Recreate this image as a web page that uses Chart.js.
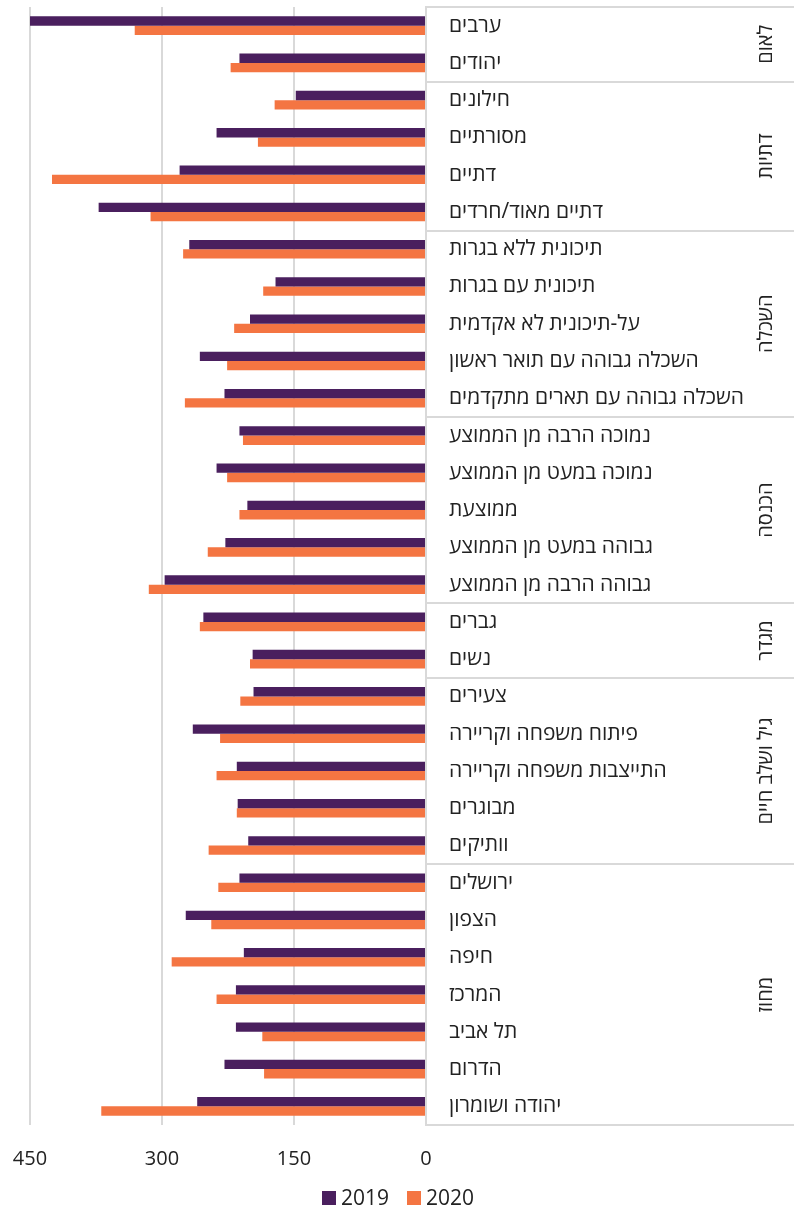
<!DOCTYPE html>
<html>
<head>
<meta charset="utf-8">
<script src="https://cdn.jsdelivr.net/npm/chart.js@4"></script>
<style>
    html, body { margin: 0; padding: 0; background: #fff; }
    #wrap { width: 794px; height: 1210px; position: relative; }
</style>
</head>
<body>
<div id="wrap"><canvas id="chart"></canvas></div>
<script>
const categories = [
    'ערבים', 'יהודים',
    'חילונים', 'מסורתיים', 'דתיים', 'דתיים מאוד/חרדים',
    'תיכונית ללא בגרות', 'תיכונית עם בגרות', 'על-תיכונית לא אקדמית', 'השכלה גבוהה עם תואר ראשון', 'השכלה גבוהה עם תארים מתקדמים',
    'נמוכה הרבה מן הממוצע', 'נמוכה במעט מן הממוצע', 'ממוצעת', 'גבוהה במעט מן הממוצע', 'גבוהה הרבה מן הממוצע',
    'גברים', 'נשים',
    'צעירים', 'פיתוח משפחה וקריירה', 'התייצבות משפחה וקריירה', 'מבוגרים', 'וותיקים',
    'ירושלים', 'הצפון', 'חיפה', 'המרכז', 'תל אביב', 'הדרום', 'יהודה ושומרון'
];
const values2019 = [450, 212, 148, 238, 280, 372, 269, 171, 200, 257, 229, 212, 238, 203, 228, 297, 253, 197, 196, 265, 215, 214, 202, 212, 273, 207, 216, 216, 229, 260];
const values2020 = [331, 222, 172, 191, 425, 313, 276, 185, 218, 226, 274, 208, 226, 212, 248, 315, 257, 200, 211, 234, 238, 215, 247, 236, 244, 289, 238, 186, 184, 369];
const groupNames = ['לאום', 'דתיות', 'השכלה', 'הכנסה', 'מגדר', 'גיל ושלב חיים', 'מחוז'];
const groupSizes = [2, 4, 5, 5, 2, 5, 7];
const xTicks = [0, 150, 300, 450];

const FONT = "'Open Sans', 'DejaVu Sans', sans-serif";
const TEXT = '#222222';
const LINE = '#d9d9d9';

// separator lines and rotated group names in the right-hand column
const groupPlugin = {
    id: 'groups',
    afterDraw(chart) {
        const ctx = chart.ctx;
        const y = chart.scales.y;
        const area = chart.chartArea;
        const right = chart.width;
        const half = (y.getPixelForValue(1) - y.getPixelForValue(0)) / 2;

        ctx.save();
        ctx.strokeStyle = LINE;
        ctx.lineWidth = 2;
        let idx = 0;
        const bounds = [y.getPixelForValue(0) - half];
        groupSizes.forEach(n => {
            idx += n;
            bounds.push(y.getPixelForValue(idx - 1) + half);
        });
        bounds.forEach(b => {
            ctx.beginPath();
            ctx.moveTo(area.right - 1, Math.round(b));
            ctx.lineTo(right, Math.round(b));
            ctx.stroke();
        });

        ctx.fillStyle = TEXT;
        ctx.font = '20px ' + FONT;
        ctx.textAlign = 'center';
        ctx.textBaseline = 'middle';
        groupNames.forEach((name, i) => {
            const cy = (bounds[i] + bounds[i + 1]) / 2;
            ctx.save();
            ctx.translate(766, cy);
            ctx.rotate(-Math.PI / 2);
            ctx.fillText(name, 0, 0);
            ctx.restore();
        });
        ctx.restore();
    }
};

// legend under the axis: small square, short gap, year
const legendPlugin = {
    id: 'smallLegend',
    afterDraw(chart) {
        const ctx = chart.ctx;
        const sets = chart.data.datasets;
        const box = 14, gap = 5, spacing = 18, cy = 1198;
        ctx.save();
        ctx.font = '21px ' + FONT;
        ctx.textBaseline = 'middle';
        ctx.textAlign = 'left';
        const widths = sets.map(ds => box + gap + ctx.measureText(ds.label).width);
        const total = widths.reduce((a, b) => a + b, 0) + spacing * (sets.length - 1);
        let x = 398 - total / 2;
        sets.forEach((ds, i) => {
            ctx.fillStyle = ds.backgroundColor;
            ctx.fillRect(Math.round(x), cy - box / 2, box, box);
            ctx.fillStyle = TEXT;
            ctx.fillText(ds.label, x + box + gap, cy + 1);
            x += widths[i] + spacing;
        });
        ctx.restore();
    }
};

new Chart(document.getElementById('chart'), {
    type: 'bar',
    data: {
        labels: categories,
        datasets: [
            {
                label: '2019',
                data: values2019,
                backgroundColor: '#4a1f5e',
                categoryPercentage: 0.5,
                barPercentage: 1.0
            },
            {
                label: '2020',
                data: values2020,
                backgroundColor: '#f47542',
                categoryPercentage: 0.5,
                barPercentage: 1.0
            }
        ]
    },
    options: {
        indexAxis: 'y',
        responsive: true,
        maintainAspectRatio: false,
        animation: false,
        layout: {
            padding: { left: 30, top: 7, right: 0, bottom: 40 }
        },
        plugins: {
            legend: { display: false },
            tooltip: { enabled: false }
        },
        scales: {
            x: {
                min: 0,
                max: 450,
                reverse: true,
                afterBuildTicks: scale => {
                    scale.ticks = xTicks.map(v => ({ value: v }));
                },
                afterFit: scale => {
                    scale.height = 45;
                    scale.paddingLeft = 0;
                    scale.paddingRight = 0;
                },
                grid: {
                    color: LINE,
                    lineWidth: 2,
                    drawTicks: false
                },
                border: { display: false },
                ticks: {
                    color: TEXT,
                    padding: 22,
                    font: { family: FONT, size: 20 }
                }
            },
            y: {
                position: 'right',
                afterFit: scale => {
                    scale.width = 368;
                    scale.paddingTop = 0;
                    scale.paddingBottom = 0;
                },
                grid: { display: false },
                border: { color: LINE, width: 2 },
                ticks: {
                    color: TEXT,
                    padding: 15,
                    autoSkip: false,
                    font: { family: FONT, size: 21 }
                }
            }
        }
    },
    plugins: [groupPlugin, legendPlugin]
});
</script>
</body>
</html>
